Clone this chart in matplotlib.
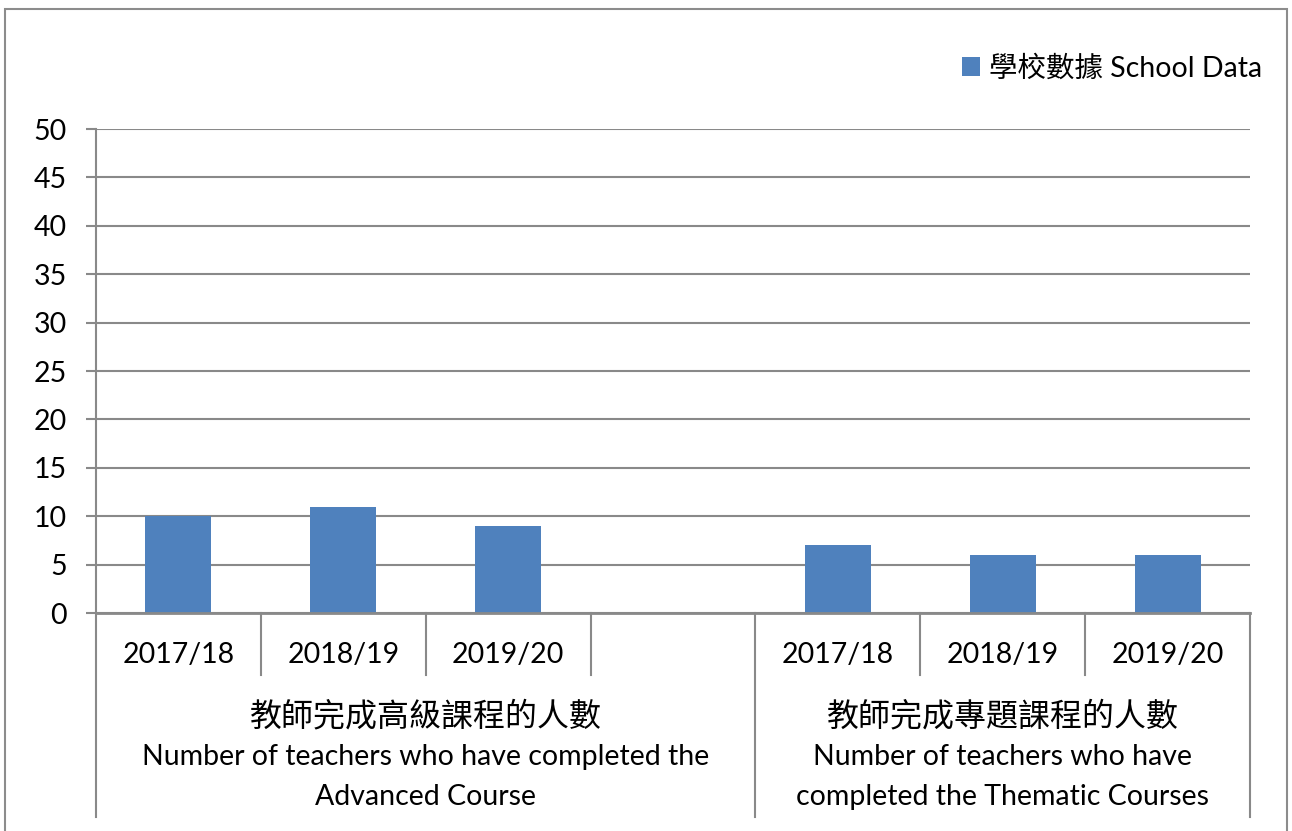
import matplotlib.pyplot as plt
from matplotlib.patches import Rectangle
import matplotlib.transforms as mtransforms

plt.rcParams['font.family'] = ['Lato', 'Noto Sans CJK TC', 'DejaVu Sans']

# data
years = ["2017/18", "2018/19", "2019/20"]
advanced = [10, 11, 9]
thematic = [7, 6, 6]
group_cn = ["教師完成高級課程的人數", "教師完成專題課程的人數"]
group_en = [
    "Number of teachers who have completed the\nAdvanced Course",
    "Number of teachers who have\ncompleted the Thematic Courses",
]
series_name = "學校數據 School Data"

bar_color = "#4F81BD"
grid_color = "#898989"
fs = 20.5

W, H = 1292, 831
fig = plt.figure(figsize=(W / 100, H / 100), dpi=100)

# outer chart border
fig.patches.append(Rectangle((5 / W, -0.05), 1282 / W, 1.05 - 9 / H,
                             transform=fig.transFigure, fill=False,
                             edgecolor="#8c8c8c", linewidth=1.5))

ax = fig.add_axes([96 / W, (H - 613) / H, (1250 - 96) / W, (613 - 129) / H])

# slots: 3 advanced years, one empty slot, 3 thematic years
x_adv = list(range(len(years)))
x_the = [len(years) + 1 + i for i in range(len(years))]
n_slots = len(x_adv) + 1 + len(x_the)

ax.bar(x_adv, advanced, width=0.4, color=bar_color, zorder=3, label=series_name)
ax.bar(x_the, thematic, width=0.4, color=bar_color, zorder=3)

ax.set_xlim(-0.5, n_slots - 0.5)
ax.set_ylim(0, 50)
ax.set_yticks(range(0, 51, 5))
ax.yaxis.grid(True, color=grid_color, linewidth=1.5, zorder=0)
ax.set_xticks([])
for s in ["top", "right", "bottom"]:
    ax.spines[s].set_visible(False)
ax.spines["left"].set_color(grid_color)
ax.spines["left"].set_linewidth(1.5)
ax.tick_params(axis="y", length=7, width=1.5, color=grid_color,
               labelsize=fs, pad=14)

trans = mtransforms.blended_transform_factory(ax.transData, ax.transAxes)
# axis baseline
ax.plot([-0.5, n_slots - 0.5], [0, 0], transform=trans, color=grid_color,
        linewidth=2, clip_on=False, zorder=4)

# short separators between years
for b in range(1, n_slots):
    if b == len(x_adv) + 1:
        continue
    ax.plot([b - 0.5, b - 0.5], [0, -0.128], transform=trans, color=grid_color,
            linewidth=1.5, clip_on=False)
# long separators between groups
for b in [0, len(x_adv) + 1, n_slots]:
    ax.plot([b - 0.5, b - 0.5], [0, -0.421], transform=trans, color=grid_color,
            linewidth=1.5, clip_on=False)

for xs in (x_adv, x_the):
    for x, yr in zip(xs, years):
        ax.text(x, -0.087, yr, transform=trans, ha="center", va="center",
                fontsize=fs)

group_centers = [(-0.5 + len(x_adv) + 0.5) / 2, (x_the[0] + x_the[-1]) / 2]
for gx, cn, en in zip(group_centers, group_cn, group_en):
    ax.text(gx, (613 - 716) / 484, cn, transform=trans, ha="center",
            va="center", fontsize=23)
    ax.text(gx, (613 - 777) / 484, en, transform=trans, ha="center",
            va="center", fontsize=fs, linespacing=1.62)

ax.legend(loc="center right", bbox_to_anchor=((1262 - 96) / 1154, (613 - 68) / 484),
          frameon=False, fontsize=fs, handlelength=0.65, handleheight=0.65,
          handletextpad=0.3, borderaxespad=0, borderpad=0)

fig.savefig("out.png", dpi=100)
